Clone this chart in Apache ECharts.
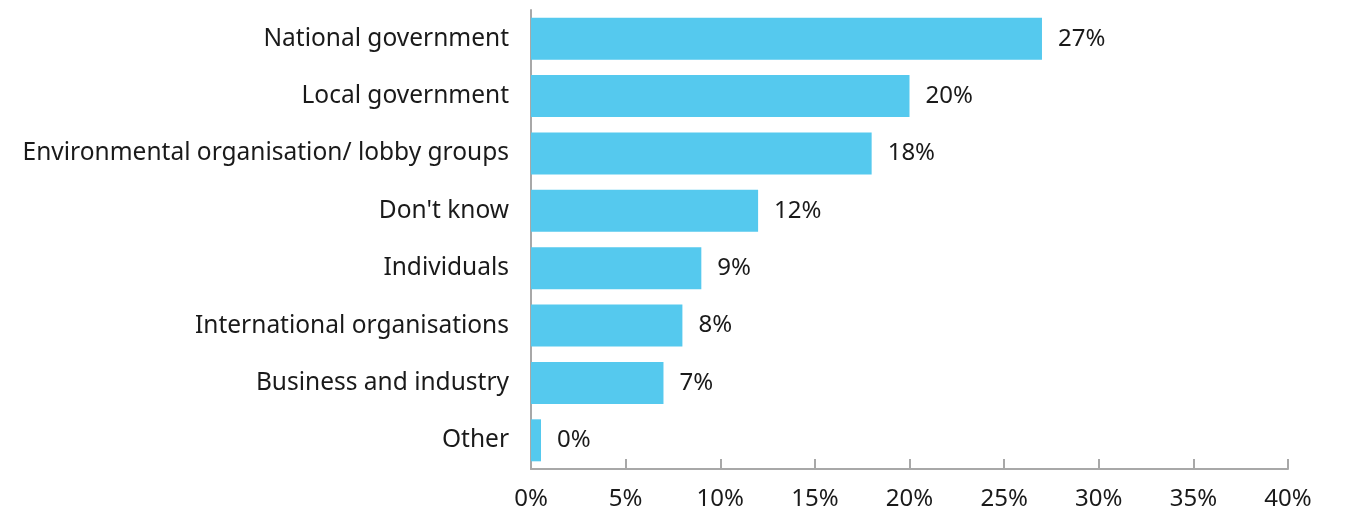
<!DOCTYPE html>
<html>
<head>
<meta charset="utf-8">
<script src="https://cdn.jsdelivr.net/npm/echarts@6/dist/echarts.min.js"></script>
<style>
  html, body { margin: 0; padding: 0; background: #ffffff; }
  #chart { width: 1345px; height: 511px; }
</style>
</head>
<body>
<div id="chart"></div>
<script>
// Who respondents see as responsible (share of responses, %)
const categories = [
  'National government',
  'Local government',
  'Environmental organisation/ lobby groups',
  "Don't know",
  'Individuals',
  'International organisations',
  'Business and industry',
  'Other'
];
const shares = [27, 20, 18, 12, 9, 8, 7, 0];

const FONT = '"Noto Sans", "Open Sans", sans-serif';
const TEXT = '#1a1a1a';
const AXIS = '#a8a8a8';
const BAR = '#55c9ee';
const SIZE = 24;

const chart = echarts.init(document.getElementById('chart'), null, { renderer: 'canvas' });
chart.setOption({
  animation: false,
  grid: { left: 531, right: 57, top: 10, bottom: 42, containLabel: false },
  xAxis: {
    type: 'value',
    min: 0,
    max: 40,
    interval: 5,
    axisLine: { show: true, lineStyle: { color: AXIS, width: 2 } },
    axisTick: { show: true, inside: true, length: 10, lineStyle: { color: AXIS, width: 2 } },
    splitLine: { show: false },
    axisLabel: {
      formatter: '{value}%',
      color: TEXT,
      fontFamily: FONT,
      fontSize: SIZE,
      margin: 18
    }
  },
  yAxis: {
    type: 'category',
    inverse: true,
    data: categories,
    axisLine: { show: true, lineStyle: { color: AXIS, width: 2 } },
    axisTick: { show: false },
    axisLabel: {
      color: TEXT,
      fontFamily: FONT,
      fontSize: 24.5,
      margin: 22,
      padding: [0, 0, 3, 0]
    }
  },
  series: [{
    type: 'bar',
    data: shares,
    barWidth: 42,
    barMinHeight: 10,
    itemStyle: { color: BAR },
    label: {
      show: true,
      position: 'right',
      distance: 16,
      formatter: '{c}%',
      color: TEXT,
      fontFamily: FONT,
      fontSize: SIZE
    }
  }]
});
</script>
</body>
</html>
